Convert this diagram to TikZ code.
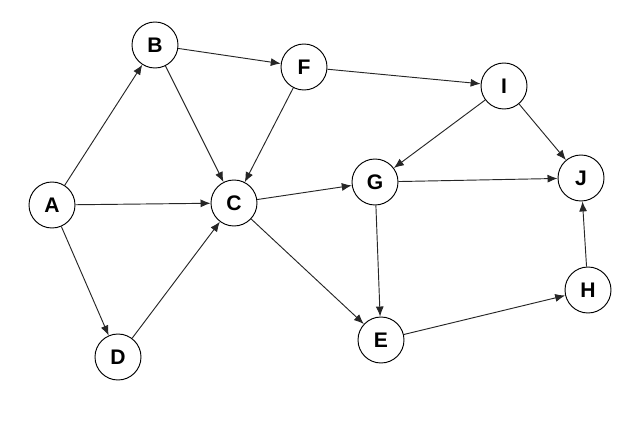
\documentclass[tikz,border=0pt]{standalone}
\usepackage{fontspec}
\setmainfont{Liberation Sans}
\usetikzlibrary{arrows.meta}

\begin{document}
\begin{tikzpicture}[x=0.03cm, y=-0.03cm,
        vertex/.style={draw, circle, minimum size=1.38cm, inner sep=0pt, line width=0.8pt, font=\fontsize{18}{18}\selectfont\bfseries},
        edge/.style={-{Latex[length=0.3cm, width=0.24cm]}, line width=0.8pt, black!85}]
        \useasboundingbox (0,0) rectangle (640,421);

        \node[vertex] (A) at (52,205) {A};
        \node[vertex] (B) at (155,45) {B};
        \node[vertex] (F) at (304,67) {F};
        \node[vertex] (I) at (504,86) {I};
        \node[vertex] (C) at (234,203) {C};
        \node[vertex] (G) at (375,182) {G};
        \node[vertex] (J) at (581,178) {J};
        \node[vertex] (D) at (118,357) {D};
        \node[vertex] (E) at (381,340) {E};
        \node[vertex] (H) at (588,290) {H};

        \draw[edge] (A) -- (B);
        \draw[edge] (A) -- (C);
        \draw[edge] (A) -- (D);
        \draw[edge] (B) -- (F);
        \draw[edge] (B) -- (C);
        \draw[edge] (F) -- (C);
        \draw[edge] (F) -- (I);
        \draw[edge] (D) -- (C);

        \draw[edge] (C) -- (G);
        \draw[edge] (C) -- (E);
        \draw[edge] (I) -- (G);
        \draw[edge] (I) -- (J);
        \draw[edge] (G) -- (J);
        \draw[edge] (G) -- (E);
        \draw[edge] (E) -- (H);
        \draw[edge] (H) -- (J);

    \end{tikzpicture}
\end{document}
